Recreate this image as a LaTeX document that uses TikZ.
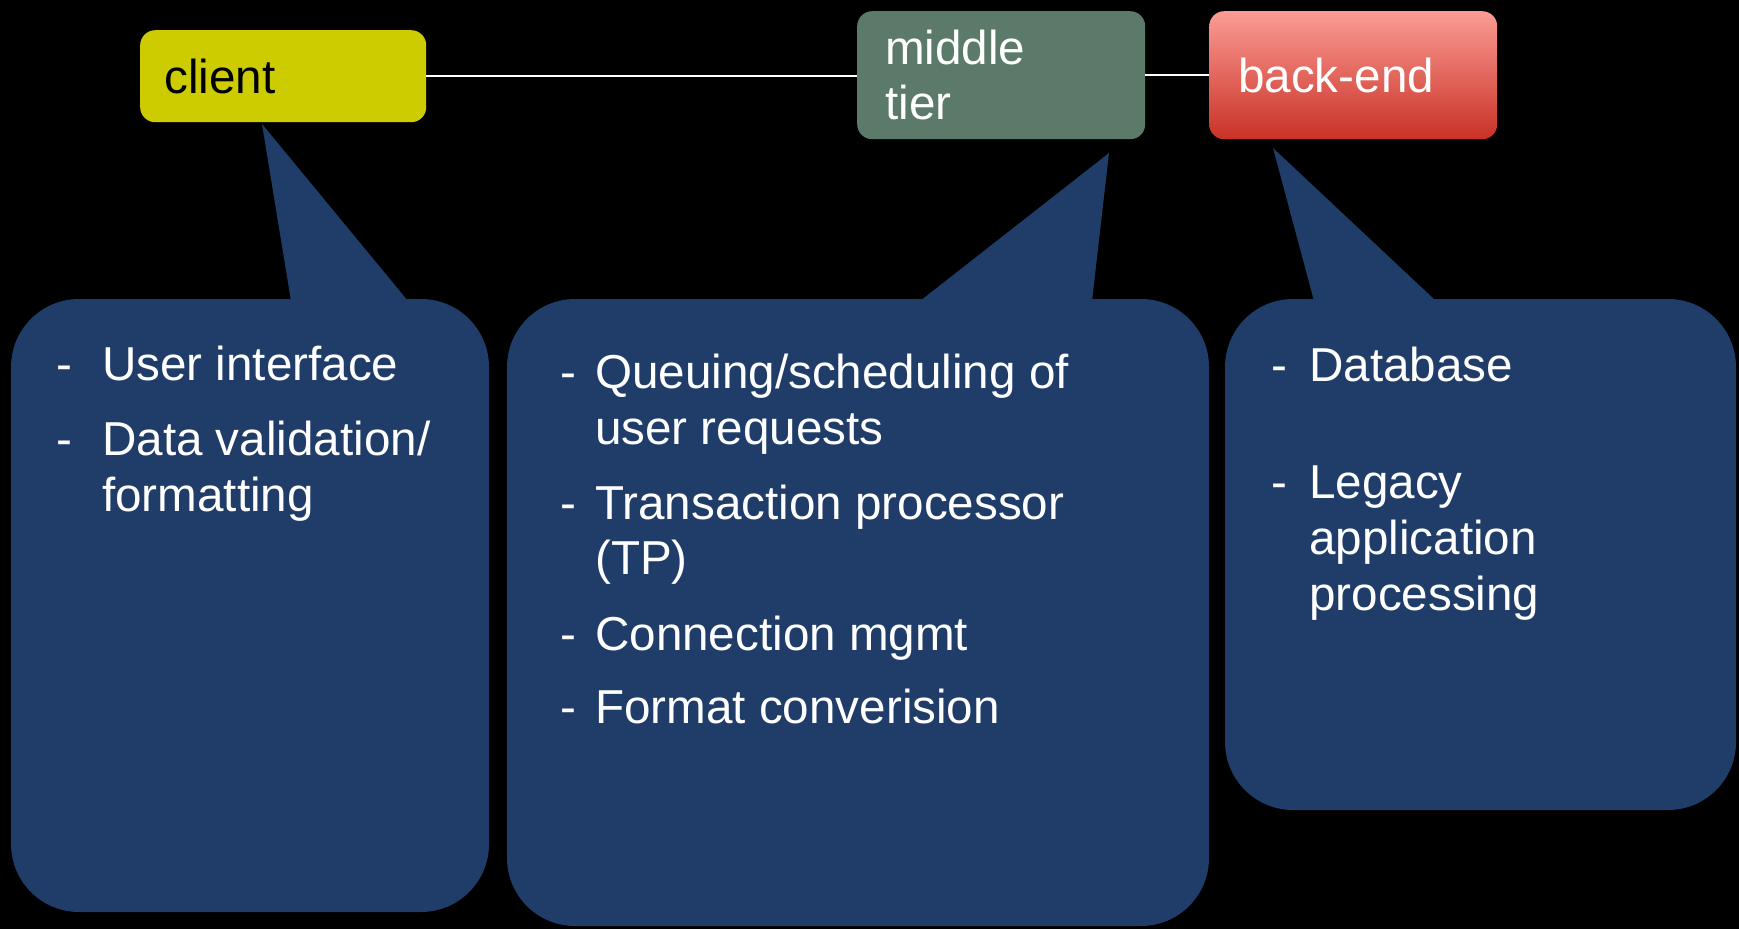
\documentclass[tikz,border=0pt]{standalone}
\usepackage{fontspec}
\setmainfont{Liberation Sans}
\definecolor{calloutblue}{HTML}{1F3D68}
\definecolor{clientyellow}{HTML}{CCCC00}
\definecolor{tiergreen}{HTML}{5B7A69}
\definecolor{backtop}{HTML}{FB9C94}
\definecolor{backbottom}{HTML}{C93126}
\newcommand{\bigtext}{\fontsize{47.6}{55.5}\selectfont}
\newcommand{\dashitem}[2]{\makebox[#1][l]{-}#2}
\tikzset{
  tierbox/.style={draw=none, rounded corners=15pt, anchor=north west,
    inner xsep=#1, inner ysep=0pt, align=left, font=\bigtext},
  callbody/.style={fill=calloutblue, rounded corners=68pt},
  calltail/.style={fill=calloutblue},
  line/.style={anchor=base west, inner sep=0pt, text=white, font=\bigtext},
  link/.style={draw=white, line width=2pt}
}
\begin{document}
\begin{tikzpicture}[x=1pt,y=-1pt]
\useasboundingbox[fill=black] (0,0) rectangle (1739,929);

% speech-bubble callouts (body + pointer)
\fill[callbody] (11,299) rectangle (489,912);
\fill[calltail] (291,301) -- (262,124) -- (408,301) -- cycle;
\fill[callbody] (507,299) rectangle (1209,926);
\fill[calltail] (920,301) -- (1109,153) -- (1092,301) -- cycle;
\fill[callbody] (1225,299) rectangle (1736,810);
\fill[calltail] (1314,301) -- (1273,148) -- (1436,301) -- cycle;

% tier boxes
\node[tierbox=24pt, fill=clientyellow, text=black, text width=238pt,
  minimum height=92pt] (client) at (140,30) {client};
\node[tierbox=28pt, fill=tiergreen, text=white, text width=232pt,
  minimum height=128pt] (middle) at (857,11) {middle\\tier};
\node[tierbox=29pt, top color=backtop, bottom color=backbottom, text=white,
  text width=230pt, minimum height=128pt] (backend) at (1209,11) {back-end};

\draw[link] (client.east) -- (client.east -| middle.west);
\draw[link] (middle.east) -- (middle.east -| backend.west);

% client duties
\node[line] (c1) at (56,380) {\dashitem{46pt}{User interface}};
\node[line] (c2) at (56,455) {\dashitem{46pt}{Data validation/}};
\node[line] (c3) at (102,511) {formatting};

% middle tier duties
\node[line] (m1) at (560,388) {\dashitem{35pt}{Queuing/scheduling of}};
\node[line] (m2) at (595,444) {user requests};
\node[line] (m3) at (560,519) {\dashitem{35pt}{Transaction processor}};
\node[line] (m4) at (595,574) {(TP)};
\node[line] (m5) at (560,650) {\dashitem{35pt}{Connection mgmt}};
\node[line] (m6) at (560,723) {\dashitem{35pt}{Format converision}};

% back-end duties
\node[line] (b1) at (1271,381) {\dashitem{38pt}{Database}};
\node[line] (b2) at (1271,498) {\dashitem{38pt}{Legacy}};
\node[line] (b3) at (1309,554) {application};
\node[line] (b4) at (1309,610) {processing};
\end{tikzpicture}
\end{document}
